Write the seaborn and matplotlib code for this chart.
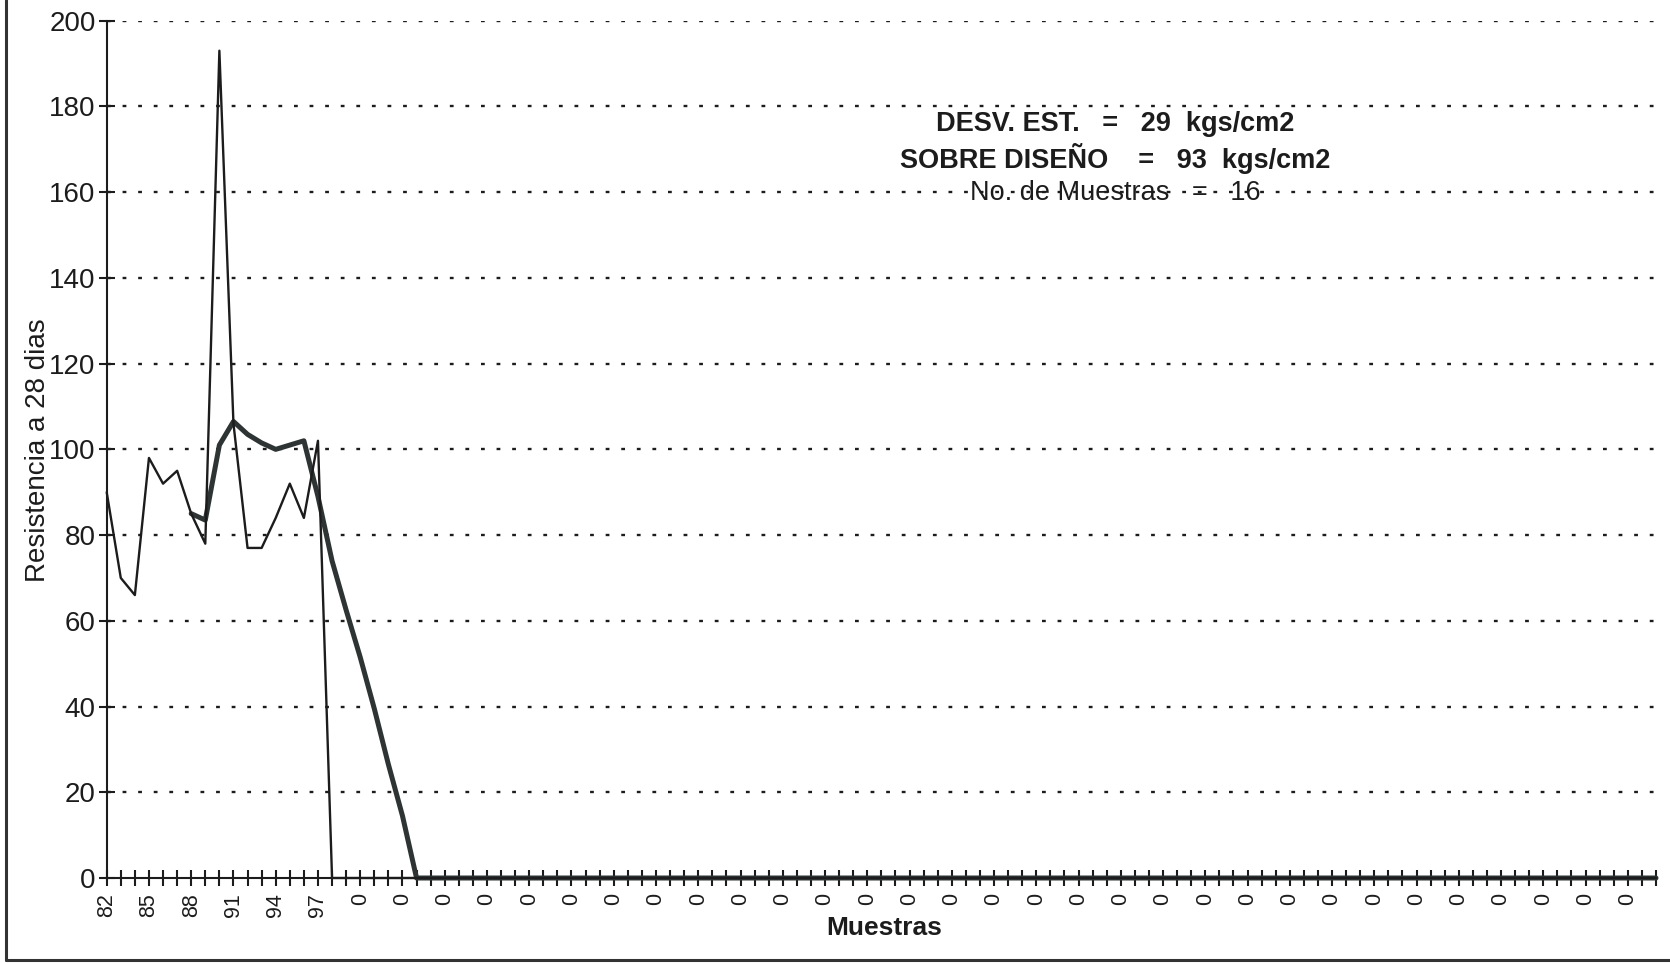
import numpy as np
import pandas as pd
import matplotlib
matplotlib.use("Agg")
import matplotlib.pyplot as plt
from matplotlib.lines import Line2D
import seaborn as sns

# ---------------- data ----------------
samples = list(range(82, 98))                     # sample numbers (16)
individual = [90, 70, 66, 98, 92, 95, 85, 78, 193, 106, 77, 77, 84, 92, 84, 102]
n_categories = 111                                 # total category slots on x axis
average_start = 6                                  # first slot of moving-average line
average = [85, 83.5, 101, 106.5, 103.5, 101.5, 100, 101, 102, 89,
           74, 62.5, 51.5, 39.5, 26.5, 14.5, 0]
tick_labels = [str(s) for s in samples] + ["0"] * (n_categories - len(samples))
y_ticks = [0, 20, 40, 60, 80, 100, 120, 140, 160, 180, 200]
info_lines = ["DESV. EST.   =   29  kgs/cm2",
              "SOBRE DISEÑO    =   93  kgs/cm2",
              "No. de Muestras   =   16"]

thin_vals = individual + [0] * (n_categories - len(individual))
thick_vals = average + [0] * (n_categories - average_start - len(average))
df_thin = pd.DataFrame({"idx": np.arange(n_categories), "val": thin_vals})
df_thick = pd.DataFrame({"idx": np.arange(average_start, n_categories), "val": thick_vals})

# ---------------- style ----------------
sns.set_style("white")
plt.rcParams["font.family"] = ["Liberation Sans", "DejaVu Sans"]

W, H = 1670, 963
fig = plt.figure(figsize=(W / 100, H / 100), dpi=100)
left, right, top, bottom = 106.7, 1656, 20.7, 878
ax = fig.add_axes([left / W, (H - bottom) / H, (right - left) / W, (bottom - top) / H])

ink = "#1c1c1c"
sns.lineplot(data=df_thick, x="idx", y="val", ax=ax, color="#2e3434",
             linewidth=3.6, clip_on=False, zorder=4)
sns.lineplot(data=df_thin, x="idx", y="val", ax=ax, color=ink,
             linewidth=1.7, clip_on=False, zorder=5)

ax.set_xlim(0, n_categories - 1)
ax.set_ylim(0, 200)

# grid
ax.set_yticks(y_ticks)
ax.set_yticklabels([str(v) for v in y_ticks], fontsize=20, color=ink)
for v in y_ticks[1:]:
    ax.axhline(v, color=ink, linewidth=1.7, linestyle=(0, (1.6, 5.0)), zorder=1)

ax.set_xticks(np.arange(n_categories))
ax.set_xticklabels([lab if i % 3 == 0 else "" for i, lab in enumerate(tick_labels)],
                   rotation=90, fontsize=15.5, color=ink)

ax.tick_params(axis="both", which="major", bottom=True, left=True,
               direction="inout", length=12, width=1.5, color=ink)
ax.tick_params(axis="y", pad=2)
ax.tick_params(axis="x", pad=5)

for s in ["top", "right"]:
    ax.spines[s].set_visible(False)
for s in ["left", "bottom"]:
    ax.spines[s].set_color(ink)
    ax.spines[s].set_linewidth(1.5)

ax.set_xlabel("Muestras", fontsize=19, fontweight="bold", color=ink)
ax.xaxis.label.set_va("center")
ax.xaxis.set_label_coords((884 - left) / (right - left), (bottom - 928) / (bottom - top))
ax.set_ylabel("Resistencia a 28 dias", fontsize=20, color=ink)
ax.yaxis.label.set_va("center")
ax.yaxis.set_label_coords((38 - left) / (right - left), (bottom - 450) / (bottom - top))

# annotation block
ys = [124, 158, 193]
weights = ["bold", "bold", "normal"]
for txt, yy, fw in zip(info_lines, ys, weights):
    fig.text(1115 / W, 1 - yy / H, txt, ha="center", va="center",
             fontsize=19.5, fontweight=fw, color=ink, zorder=10)

# outer frame (left and bottom edges of the scanned box)
fig.add_artist(Line2D([6 / W, 6 / W], [(H - 960) / H, 1], transform=fig.transFigure,
                      color="#333333", linewidth=2.2))
fig.add_artist(Line2D([6 / W, 1], [(H - 960) / H, (H - 960) / H], transform=fig.transFigure,
                      color="#333333", linewidth=2.2))

fig.savefig("out.png", dpi=100, facecolor="white")
